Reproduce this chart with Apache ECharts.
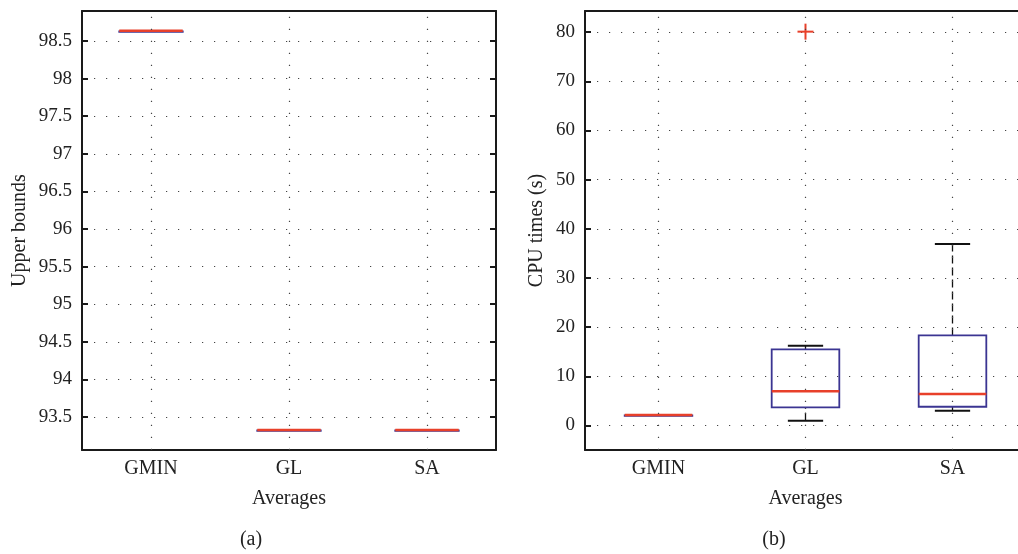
<!DOCTYPE html>
<html>
<head>
<meta charset="utf-8">
<script src="https://cdn.jsdelivr.net/npm/echarts@6/dist/echarts.min.js"></script>
<style>html,body{margin:0;padding:0;background:#fff;overflow:hidden}#c{width:1040px;height:554px}</style>
</head>
<body>
<div id="c"></div>
<script>
// ---- data ----
const categories = ['GMIN', 'GL', 'SA'];
// [min, q1, median, q3, max] per category
const upperBoundsStats = [
  [98.63, 98.63, 98.63, 98.63, 98.63],
  [93.32, 93.32, 93.32, 93.32, 93.32],
  [93.32, 93.32, 93.32, 93.32, 93.32]
];
const cpuTimesStats = [
  [2.03, 2.03, 2.03, 2.03, 2.03],
  [0.96, 3.66, 6.85, 15.45, 16.2],
  [3.0, 3.8, 6.3, 18.3, 36.9]
];
const cpuOutliers = [['GL', 80.1]];
const leftYRange = [93.06, 98.9];
const rightYRange = [-5, 84.3];

// ---- styling ----
const FONT = 'Liberation Serif';
const TXT = '#222';
const AXC = '#1a1a1a';
const RED = '#e8402a';
const BLUE = '#3b3592';
const DOT = {color: '#444', width: 1.2, type: [1.2, 10.8]};

function boxRender(params, api) {
  const x = api.value(0);
  const v = [1,2,3,4,5].map(k => api.value(k));
  const band = api.size([1, 0])[0];
  const hw = band * 0.23;
  const cw = band * 0.12;
  const p = v.map(val => api.coord([x, val]));
  const cx = p[0][0];
  const children = [];
  if (v[4] > v[3]) children.push({type:'line', shape:{x1:cx,y1:p[3][1],x2:cx,y2:p[4][1]}, style:{stroke:'#111',lineWidth:1.3,lineDash:[8,4]}});
  if (v[1] > v[0]) children.push({type:'line', shape:{x1:cx,y1:p[0][1],x2:cx,y2:p[1][1]}, style:{stroke:'#111',lineWidth:1.3,lineDash:[8,4]}});
  if (v[4] > v[3]) children.push({type:'line', shape:{x1:cx-cw,y1:p[4][1],x2:cx+cw,y2:p[4][1]}, style:{stroke:'#111',lineWidth:2}});
  if (v[1] > v[0]) children.push({type:'line', shape:{x1:cx-cw,y1:p[0][1],x2:cx+cw,y2:p[0][1]}, style:{stroke:'#111',lineWidth:2}});
  children.push({type:'rect', shape:{x:cx-hw,y:p[3][1],width:2*hw,height:Math.max(p[1][1]-p[3][1],0.5)}, style:{fill:'none',stroke:BLUE,lineWidth:1.8}});
  children.push({type:'line', shape:{x1:cx-hw,y1:p[2][1]-0.5,x2:cx+hw,y2:p[2][1]-0.5}, style:{stroke:RED,lineWidth:2.5}});
  return {type:'group', children};
}
function plusRender(params, api) {
  const c = api.coord([api.value(0), api.value(1)]);
  const s = 8;
  return {type:'group', children:[
    {type:'line', shape:{x1:c[0]-s,y1:c[1],x2:c[0]+s,y2:c[1]}, style:{stroke:RED,lineWidth:2}},
    {type:'line', shape:{x1:c[0],y1:c[1]-s,x2:c[0],y2:c[1]+s}, style:{stroke:RED,lineWidth:2}}
  ]};
}

function xAxes(gridIndex) {
  return [
    {type:'category', gridIndex, data:categories, position:'bottom',
     axisLine:{onZero:false,lineStyle:{color:AXC,width:2}},
     axisTick:{inside:true,alignWithLabel:true,length:6,lineStyle:{color:AXC,width:2}},
     axisLabel:{color:TXT,fontFamily:FONT,fontSize:20,margin:9},
     splitLine:{show:false},
     name:'Averages', nameLocation:'middle', nameGap:39,
     nameTextStyle:{color:TXT,fontFamily:FONT,fontSize:20}},
    {type:'category', gridIndex, data:categories, position:'top',
     axisLine:{onZero:false,lineStyle:{color:AXC,width:2}},
     axisTick:{inside:true,alignWithLabel:true,length:6,lineStyle:{color:AXC,width:2}},
     axisLabel:{show:false}, splitLine:{show:false}}
  ];
}
function yAxes(gridIndex, range, splitNumber, name, nameGap, mirror) {
  const axes = [
    {type:'value', gridIndex, min:range[0], max:range[1], splitNumber, position:'left',
     axisLine:{show:true,onZero:false,lineStyle:{color:AXC,width:2}},
     axisTick:{show:true,inside:true,length:6,lineStyle:{color:AXC,width:2}},
     axisLabel:{color:TXT,fontFamily:FONT,fontSize:19,margin:10,showMinLabel:false,showMaxLabel:false},
     splitLine:{show:true,lineStyle:DOT},
     name, nameLocation:'middle', nameGap,
     nameTextStyle:{color:TXT,fontFamily:FONT,fontSize:20}}
  ];
  if (mirror) axes.push(
    {type:'value', gridIndex, min:range[0], max:range[1], splitNumber, position:'right',
     axisLine:{show:true,onZero:false,lineStyle:{color:AXC,width:2}},
     axisTick:{show:true,inside:true,length:6,lineStyle:{color:AXC,width:2}},
     axisLabel:{show:false}, splitLine:{show:false}});
  return axes;
}
const vGrid = {silent:true, symbol:'none', label:{show:false}, animation:false,
  lineStyle:{color:'#444',width:1.2,type:[1.2,10.8]},
  data: categories.map(c => ({xAxis:c}))};

const chart = echarts.init(document.getElementById('c'), null, {renderer:'canvas'});
chart.setOption({
  animation:false,
  backgroundColor:'#fff',
  grid:[
    {left:82, top:11, right:544, bottom:104},
    {left:585, top:11, right:14, bottom:104}
  ],
  xAxis:[...xAxes(0), ...xAxes(1)],
  yAxis:[...yAxes(0, leftYRange, 12, 'Upper bounds', 52, true), ...yAxes(1, rightYRange, 9, 'CPU times (s)', 38, false)],
  graphic:[
    {type:'text', x:251, y:540, style:{text:'(a)', fill:TXT, font:'20px "Liberation Serif"', textAlign:'center', textVerticalAlign:'middle'}},
    {type:'text', x:774, y:540, style:{text:'(b)', fill:TXT, font:'20px "Liberation Serif"', textAlign:'center', textVerticalAlign:'middle'}}
  ],
  series:[
    {type:'custom', xAxisIndex:0, yAxisIndex:0, renderItem:boxRender,
     encode:{x:0, y:[1,2,3,4,5]},
     data: categories.map((c,i) => [i, ...upperBoundsStats[i]]), markLine:vGrid, z:3},
    {type:'custom', xAxisIndex:2, yAxisIndex:2, renderItem:boxRender,
     encode:{x:0, y:[1,2,3,4,5]},
     data: categories.map((c,i) => [i, ...cpuTimesStats[i]]), markLine:vGrid, z:3},
    {type:'custom', xAxisIndex:2, yAxisIndex:2, renderItem:plusRender,
     encode:{x:0, y:1},
     data: cpuOutliers.map(o => [categories.indexOf(o[0]), o[1]]), z:4}
  ]
});
</script>
</body>
</html>
